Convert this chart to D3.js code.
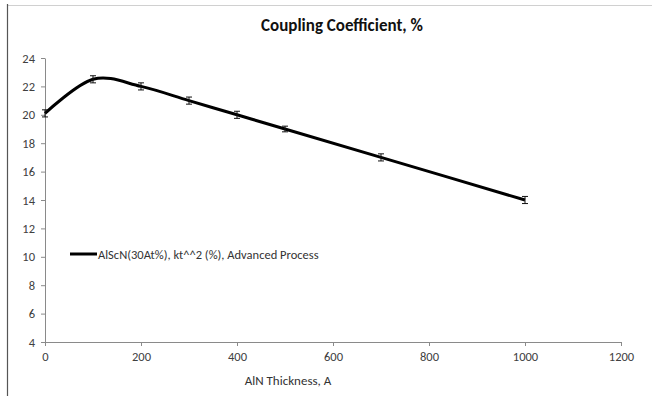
<!DOCTYPE html>
<html>
<head>
<meta charset="utf-8">
<script src="https://cdn.jsdelivr.net/npm/d3@7"></script>
<style>
  body { margin: 0; background: #fff; }
  svg { display: block; }
</style>
</head>
<body>
<div id="chart"></div>
<script>
// data
const thickness = [0, 100, 200, 300, 400, 500, 700, 1000];
const coupling = [20.1, 22.5, 22.0, 21.0, 20.0, 19.0, 17.0, 14.0];
const errorBar = [0.25, 0.25, 0.25, 0.25, 0.25, 0.2, 0.25, 0.25];
const xTicks = [0, 200, 400, 600, 800, 1000, 1200];
const yTicks = [4, 6, 8, 10, 12, 14, 16, 18, 20, 22, 24];
const seriesName = 'AlScN(30At%), kt^^2 (%), Advanced Process';

const width = 652;
const height = 396;
const font = "Calibri, Carlito, 'Liberation Sans', Arial, sans-serif";

const x = d3.scaleLinear().domain([0, 1200]).range([45, 621]);
const y = d3.scaleLinear().domain([4, 24]).range([342, 58]);

const svg = d3.select('#chart').append('svg')
  .attr('width', width)
  .attr('height', height);

// page frame lines from the scan
svg.append('line')
  .attr('x1', 7).attr('x2', width).attr('y1', 5.5).attr('y2', 5.5)
  .attr('stroke', '#d0d0d0').attr('stroke-width', 1);
svg.append('line')
  .attr('x1', 7.5).attr('x2', 7.5).attr('y1', 4).attr('y2', height)
  .attr('stroke', '#555').attr('stroke-width', 1.2);

// Title
svg.append('text')
  .attr('x', 342).attr('y', 31)
  .attr('text-anchor', 'middle')
  .attr('font-family', font)
  .attr('font-size', 17)
  .attr('font-weight', 'bold')
  .attr('fill', '#111')
  .text('Coupling Coefficient, %');

// Y-Axis
const yAxis = svg.append('g')
  .attr('transform', `translate(${x(0)},0)`)
  .call(d3.axisLeft(y).tickValues(yTicks).tickSize(4).tickSizeOuter(0));

// X-Axis
const xAxis = svg.append('g')
  .attr('transform', `translate(0,${y(4)})`)
  .call(d3.axisBottom(x).tickValues(xTicks).tickFormat(d3.format('d'))
    .tickSize(4).tickSizeOuter(0));

[xAxis, yAxis].forEach(g => {
  g.select('.domain').attr('stroke', '#8a8a8a');
  g.selectAll('.tick line').attr('stroke', '#8a8a8a');
  g.selectAll('.tick text')
    .attr('font-family', font)
    .attr('font-size', 12.5)
    .attr('fill', '#404040');
});
yAxis.selectAll('.tick text').attr('x', -10);
xAxis.selectAll('.tick text').attr('y', 10);

// X Axis Label
svg.append('text')
  .attr('x', 288).attr('y', 385)
  .attr('text-anchor', 'middle')
  .attr('font-family', font)
  .attr('font-size', 13)
  .attr('fill', '#333')
  .text('AlN Thickness, A');

const points = thickness.map((t, i) => ({ t, v: coupling[i], e: errorBar[i] }));

// smoothed line
const line = d3.line()
  .x(d => x(d.t))
  .y(d => y(d.v))
  .curve(d3.curveCardinal.tension(0));

svg.append('path')
  .datum(points)
  .attr('d', line)
  .attr('fill', 'none')
  .attr('stroke', '#000')
  .attr('stroke-width', 3)
  .attr('stroke-linejoin', 'round');

// error bars
const bars = svg.append('g')
  .selectAll('g')
  .data(points)
  .join('g')
  .attr('stroke', '#111')
  .attr('stroke-width', 1);

bars.append('line')
  .attr('x1', d => x(d.t)).attr('x2', d => x(d.t))
  .attr('y1', d => y(d.v - d.e)).attr('y2', d => y(d.v + d.e));
bars.append('line')
  .attr('x1', d => x(d.t) - 3).attr('x2', d => x(d.t) + 3)
  .attr('y1', d => y(d.v + d.e)).attr('y2', d => y(d.v + d.e));
bars.append('line')
  .attr('x1', d => x(d.t) - 3).attr('x2', d => x(d.t) + 3)
  .attr('y1', d => y(d.v - d.e)).attr('y2', d => y(d.v - d.e));

// legend
const legend = svg.append('g');
legend.append('line')
  .attr('x1', 70).attr('x2', 97).attr('y1', 254).attr('y2', 254)
  .attr('stroke', '#000').attr('stroke-width', 3);
legend.append('text')
  .attr('x', 98).attr('y', 258.5)
  .attr('font-family', font)
  .attr('font-size', 12.5)
  .attr('fill', '#333')
  .text(seriesName);
</script>
</body>
</html>
